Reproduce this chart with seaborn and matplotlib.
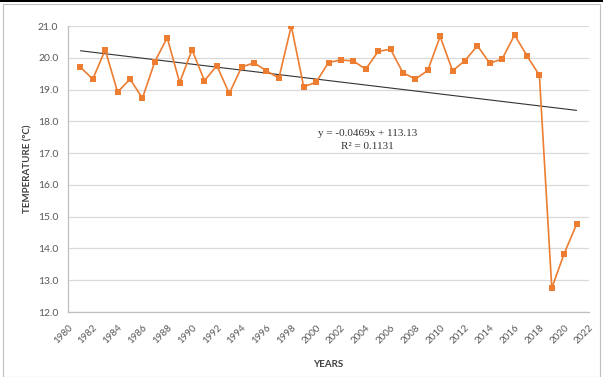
import matplotlib
matplotlib.use("Agg")
import matplotlib.pyplot as plt
import seaborn as sns
import numpy as np
import pandas as pd
from matplotlib.patches import Rectangle

# ---- data ----
years = list(range(1981, 2022))
temps = [19.70, 19.33, 20.25, 18.92, 19.33, 18.73, 19.88, 20.63, 19.22, 20.25,
         19.28, 19.75, 18.88, 19.71, 19.84, 19.59, 19.36, 21.00, 19.09, 19.23,
         19.85, 19.93, 19.90, 19.64, 20.20, 20.27, 19.53, 19.33, 19.60, 20.67,
         19.59, 19.91, 20.38, 19.83, 19.96, 20.72, 20.06, 19.45, 12.75, 13.84,
         14.76]
trend_slope = -0.0469
trend_intercept = 113.13
equation_text = "y = -0.0469x + 113.13"
r2_text = "R² = 0.1131"
x_ticks = list(range(1980, 2023, 2))
y_ticks = [12.0, 13.0, 14.0, 15.0, 16.0, 17.0, 18.0, 19.0, 20.0, 21.0]
x_label = "YEARS"
y_label = "TEMPERATURE (ºC)"

df = pd.DataFrame({"year": years, "temp": temps})
trend_x = np.array([years[0], years[-1]])
trend_df = pd.DataFrame({"year": trend_x, "temp": trend_slope * trend_x + trend_intercept})

sns.set_style("white")
plt.rcParams["font.family"] = ["Lato", "DejaVu Sans"]

fig = plt.figure(figsize=(6.03, 3.77), dpi=100)
ax = fig.add_axes([68 / 603, 1 - 312 / 377, (589 - 68) / 603, (312 - 26) / 377])

orange = "#ED7D31"
sns.lineplot(data=df, x="year", y="temp", ax=ax, color=orange, linewidth=1.2,
             marker="s", markersize=4.8, markeredgewidth=0, zorder=3)
sns.lineplot(data=trend_df, x="year", y="temp", ax=ax, color="#333333",
             linewidth=0.8, zorder=2)

ax.set_xlim(1980, 2022)
ax.set_ylim(12.0, 21.0)
ax.set_xticks(x_ticks)
ax.set_xticklabels([str(t) for t in x_ticks], rotation=45, ha="right",
                   rotation_mode="anchor", fontsize=7, color="#595959")
ax.set_yticks(y_ticks)
ax.set_yticklabels([f"{t:.1f}" for t in y_ticks], fontsize=7.5, color="#595959")

ax.yaxis.grid(True, color="#D9D9D9", linewidth=0.9)
ax.xaxis.grid(False)
for s in ["top", "right"]:
    ax.spines[s].set_visible(False)
for s in ["left", "bottom"]:
    ax.spines[s].set_color("#BFBFBF")
    ax.spines[s].set_linewidth(0.9)
ax.tick_params(axis="both", which="both", length=5, width=0.8, color="#BFBFBF",
               direction="out", pad=2)
ax.tick_params(axis="x", pad=3)

ax.set_xlabel(x_label, fontsize=7, fontweight="bold", color="#404040", labelpad=10)
ax.set_ylabel(y_label, fontsize=7, fontweight="bold", color="#404040", labelpad=4)

ax.text(0.575, 0.625, equation_text, transform=ax.transAxes, ha="center", va="center",
        fontsize=8, family="Liberation Serif", color="#333333")
ax.text(0.575, 0.58, r2_text, transform=ax.transAxes, ha="center", va="center",
        fontsize=8, family="Liberation Serif", color="#333333")

# chart frame
fig.patches.append(Rectangle((3 / 603, 0.0), 597 / 603, 1 - 4 / 377, transform=fig.transFigure,
                             fill=False, edgecolor="#BFBFBF", linewidth=0.8))
fig.patches.append(Rectangle((0, 1 - 2 / 377), 1, 2 / 377, transform=fig.transFigure,
                             facecolor="black", edgecolor="none"))

fig.savefig("out.png", dpi=100)
